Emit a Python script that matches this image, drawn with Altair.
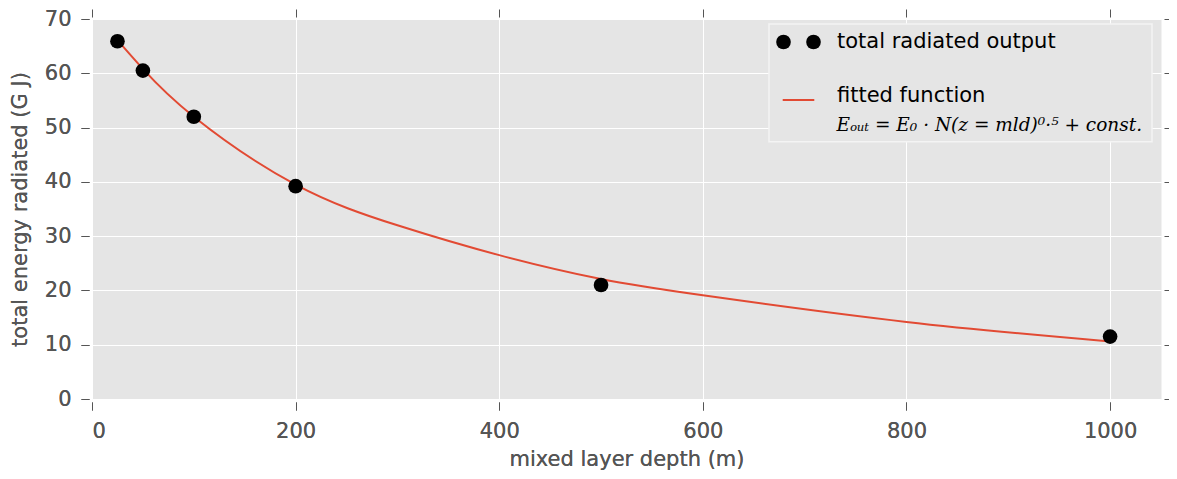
import altair as alt
import pandas as pd

# measured data
depth = [25, 50, 100, 200, 500, 1000]
energy = [65.9, 60.5, 52.0, 39.2, 21.0, 11.5]

# fitted curve
fit_x = [25, 50, 100, 200, 300, 400, 500, 600, 800, 1000]
fit_y = [66.1, 60.8, 52.0, 39.5, 32.0, 26.5, 22.1, 19.1, 14.2, 10.6]

x_ticks = [0, 200, 400, 600, 800, 1000]
y_ticks = [0, 10, 20, 30, 40, 50, 60, 70]

pts = pd.DataFrame({"x": depth, "y": energy})
fit = pd.DataFrame({"x": fit_x, "y": fit_y})
one = pd.DataFrame({"a": [0]})

FONT = "DejaVu Sans"
TXT = "#555555"
RED = "#E24A33"
FS = 21

xs = alt.Scale(domain=[0, 1050], nice=False, zero=False)
ys = alt.Scale(domain=[0, 70], nice=False, zero=False)

x_bottom = alt.Axis(orient="bottom", values=x_ticks, format="d", title="mixed layer depth (m)",
                    grid=True, gridColor="white", gridWidth=1, domain=False,
                    ticks=True, tickColor=TXT, tickSize=8, tickWidth=1, offset=3,
                    labelFont=FONT, labelFontSize=FS, labelColor=TXT, labelPadding=10,
                    titleFont=FONT, titleFontSize=FS, titleColor=TXT, titleFontWeight="normal",
                    titlePadding=7)
y_left = alt.Axis(orient="left", values=y_ticks, format="d", title="total energy radiated (G J)",
                  grid=True, gridColor="white", gridWidth=1, domain=False,
                  ticks=True, tickColor=TXT, tickSize=8, tickWidth=1, offset=3,
                  labelFont=FONT, labelFontSize=FS, labelColor=TXT, labelPadding=10,
                  titleFont=FONT, titleFontSize=FS, titleColor=TXT, titleFontWeight="normal",
                  titlePadding=14)
x_top = alt.Axis(orient="top", values=x_ticks, title=None, labels=False, grid=False,
                 domain=False, tickColor=TXT, tickSize=8, offset=2)
y_right = alt.Axis(orient="right", values=y_ticks, title=None, labels=False, grid=False,
                   domain=False, tickColor=TXT, tickSize=9, offset=3)

line = alt.Chart(fit).mark_line(color=RED, strokeWidth=2, interpolate="natural").encode(
    x=alt.X("x:Q", scale=xs, axis=x_bottom),
    y=alt.Y("y:Q", scale=ys, axis=y_left),
)
dots = alt.Chart(pts).mark_circle(color="black", size=215, opacity=1).encode(
    x=alt.X("x:Q", scale=xs, axis=x_bottom),
    y=alt.Y("y:Q", scale=ys, axis=y_left),
)
ghost = alt.Chart(pts).mark_point(opacity=0).encode(
    x=alt.X("x:Q", scale=xs, axis=x_top),
    y=alt.Y("y:Q", scale=ys, axis=y_right),
)

# legend (positions in plot pixels; plot top is at page y = 19)
frame = alt.Chart(one).mark_rect(fill="#E5E5E5", stroke="#F4F4F4", strokeWidth=1.5).encode(
    x=alt.value(677), x2=alt.value(1060), y=alt.value(5), y2=alt.value(122.7))
lp1 = alt.Chart(one).mark_circle(color="black", size=215, opacity=1).encode(
    x=alt.value(691.5), y=alt.value(23))
lp2 = alt.Chart(one).mark_circle(color="black", size=215, opacity=1).encode(
    x=alt.value(721.5), y=alt.value(23))
lt1 = alt.Chart(one).mark_text(text="total radiated output", font=FONT, fontSize=FS,
                               color="black", align="left", baseline="alphabetic").encode(
    x=alt.value(745), y=alt.value(29.3))
lline = alt.Chart(one).mark_rule(color=RED, strokeWidth=2).encode(
    x=alt.value(690.7), x2=alt.value(722.3), y=alt.value(81))
lt2 = alt.Chart(one).mark_text(text="fitted function", font=FONT, fontSize=FS,
                               color="black", align="left", baseline="alphabetic").encode(
    x=alt.value(745), y=alt.value(82.7))
lt3 = alt.Chart(one).mark_text(text="Eₒᵤₜ = E₀ · N(z = mld)⁰·⁵ + const.", font="DejaVu Serif",
                               fontStyle="italic", fontSize=18.5, color="black",
                               align="left", baseline="alphabetic").encode(
    x=alt.value(744.5), y=alt.value(111.5))

chart = alt.layer(line, dots, ghost, frame, lp1, lp2, lt1, lline, lt2, lt3).resolve_axis(
    x="independent", y="independent"
).properties(
    width=1069, height=380,
    autosize=alt.AutoSizeParams(type="none"),
    padding={"left": 84, "top": 11, "right": 8, "bottom": 72},
    background="white",
).configure_view(fill="#E5E5E5", stroke="transparent")

chart.save("out.html", embed_options={"renderer": "svg", "actions": False})
